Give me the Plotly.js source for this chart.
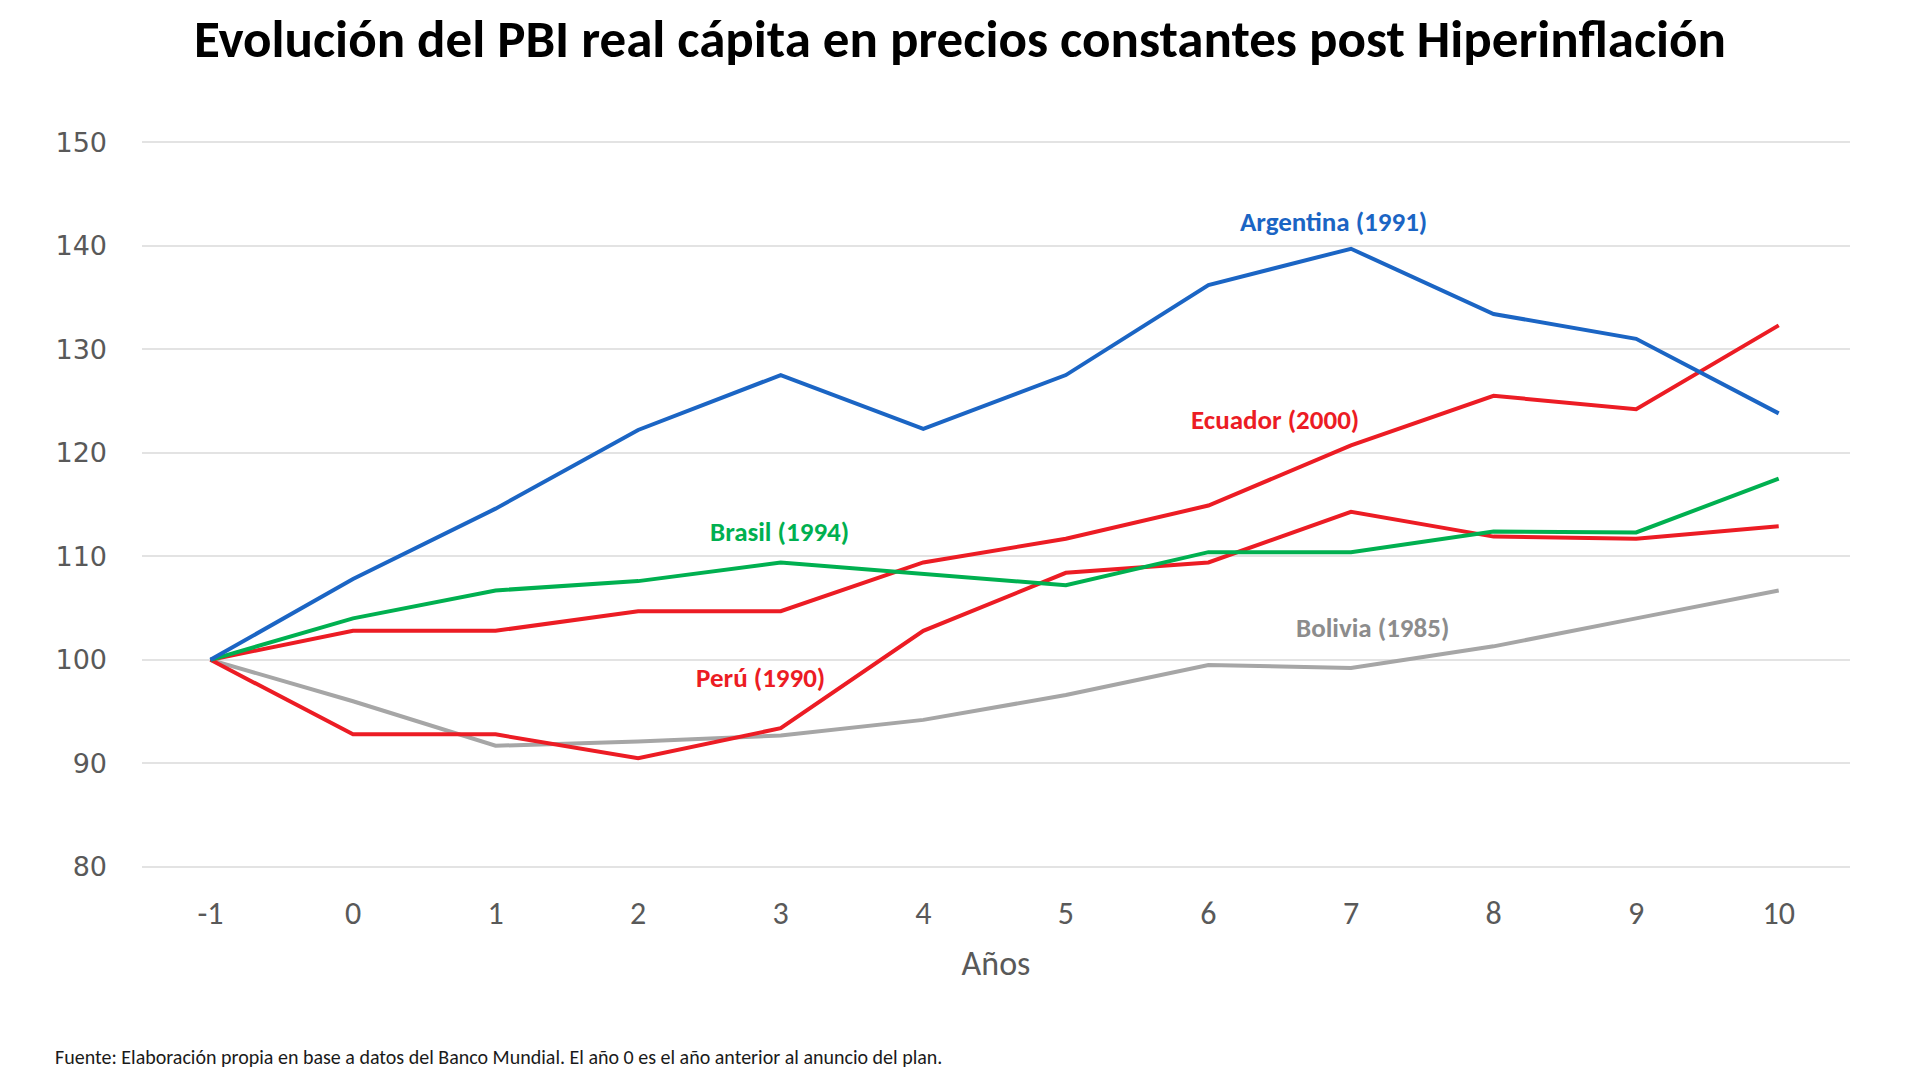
<!DOCTYPE html>
<html>
<head>
<meta charset="utf-8">
<script src="https://cdn.plot.ly/plotly-3.0.1.min.js"></script>
<style>html,body{margin:0;padding:0;background:#fff;}#chart{width:1920px;height:1080px;}</style>
</head>
<body>
<div id="chart"></div>
<script>
const years = [-1, 0, 1, 2, 3, 4, 5, 6, 7, 8, 9, 10];
const argentina = [100, 107.8, 114.6, 122.2, 127.5, 122.3, 127.5, 136.2, 139.7, 133.4, 131.0, 123.8];
const ecuador   = [100, 102.8, 102.8, 104.7, 104.7, 109.4, 111.7, 114.9, 120.7, 125.5, 124.2, 132.3];
const brasil    = [100, 104.0, 106.7, 107.6, 109.4, 108.3, 107.2, 110.4, 110.4, 112.4, 112.3, 117.5];
const peru      = [100, 92.8, 92.8, 90.5, 93.4, 102.8, 108.4, 109.4, 114.3, 111.9, 111.7, 112.9];
const bolivia   = [100, 96.0, 91.7, 92.1, 92.7, 94.2, 96.6, 99.5, 99.2, 101.3, 104.0, 106.7];
const yTicks = [80, 90, 100, 110, 120, 130, 140, 150];

const seriesNames = ['Bolivia (1985)', 'Perú (1990)', 'Ecuador (2000)', 'Brasil (1994)', 'Argentina (1991)'];
const labelX = [7.15, 2.86, 6.47, 2.99, 6.88];
const labelY = [103.1, 98.3, 123.2, 112.4, 142.3];

const colors = {blue:'#1b65c4', red:'#ec1c24', green:'#00b050', gray:'#a6a6a6'};
const seriesData = [bolivia, peru, ecuador, brasil, argentina];
const seriesColors = [colors.gray, colors.red, colors.red, colors.green, colors.blue];

const FONT = "Carlito, 'Liberation Sans Narrow', 'Open Sans', sans-serif";

const traces = seriesData.map((d, i) => ({
  x: years, y: d, type: 'scatter', mode: 'lines', name: seriesNames[i],
  line: {color: seriesColors[i], width: 4}, hoverinfo: 'skip'
}));

const annotations = seriesNames.map((n, i) => ({
  x: labelX[i], y: labelY[i], xref: 'x', yref: 'y', text: '<b>' + n + '</b>',
  showarrow: false, font: {family: FONT, size: 27, color: seriesColors[i] === colors.gray ? '#8c8c8c' : seriesColors[i]}
}));
annotations.push({
  xref: 'paper', yref: 'paper', x: -0.052, y: -0.256, xanchor: 'left', yanchor: 'middle',
  text: 'Fuente: Elaboración propia en base a datos del Banco Mundial. El año 0 es el año anterior al anuncio del plan.',
  showarrow: false, font: {family: FONT, size: 20, color: '#1a1a1a'}
});

const layout = {
  width: 1920, height: 1080,
  paper_bgcolor: '#ffffff', plot_bgcolor: '#ffffff',
  margin: {l: 142, r: 70, t: 139, b: 210},
  showlegend: false,
  title: {text: '<b>Evolución del PBI real cápita en precios constantes post Hiperinflación</b>',
          x: 0.5, xanchor: 'center', y: 0.964, yanchor: 'middle', yref: 'container',
          font: {family: FONT, size: 53, color: '#000000'}},
  xaxis: {range: [-1.48, 10.5], tickvals: years, ticktext: years.map(String),
          showgrid: false, zeroline: false, showline: false, ticks: '',
          ticklabelstandoff: 21,
          tickfont: {family: FONT, size: 32, color: '#595959'},
          title: {text: 'Años', standoff: 19, font: {family: FONT, size: 34, color: '#595959'}}},
  yaxis: {range: [79.7, 150.3], tickvals: yTicks, ticktext: yTicks.map(String),
          showgrid: true, gridcolor: '#e3e3e3', gridwidth: 2, zeroline: false, showline: false, ticks: '',
          ticklabelstandoff: 34,
          tickfont: {family: "'DejaVu Sans', sans-serif", size: 27, color: '#595959'}},
  annotations: annotations
};

Plotly.newPlot('chart', traces, layout, {displayModeBar: false, staticPlot: true});
</script>
</body>
</html>
